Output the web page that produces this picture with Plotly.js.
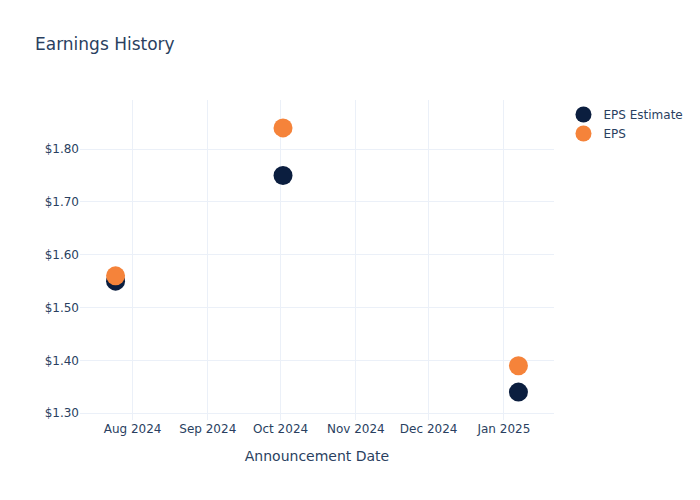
<!DOCTYPE html>
<html><head><meta charset="utf-8">
<script src="https://cdn.plot.ly/plotly-3.0.1.min.js"></script>
<style>body{margin:0}</style></head>
<body><div id="chart" style="width:700px;height:500px"></div>
<script>
const dates = ["2024-07-25", "2024-10-02", "2025-01-07"];
const epsEstimate = [1.55, 1.75, 1.34];
const epsActual = [1.56, 1.84, 1.39];

const traces = [
  {x: dates, y: epsEstimate, name: "EPS Estimate", type: "scatter", mode: "markers",
   marker: {color: "#0b1e3f", size: 19}},
  {x: dates, y: epsActual, name: "EPS", type: "scatter", mode: "markers",
   marker: {color: "#f5833a", size: 19}}
];
const layout = {
  width: 700, height: 500,
  title: {text: "Earnings History", x: 0.05, font: {size: 17, color: "#2a3f5f"}},
  paper_bgcolor: "#fff", plot_bgcolor: "#fff",
  font: {family: "'DejaVu Sans', verdana, arial, sans-serif", color: "#2a3f5f", size: 12},
  xaxis: {title: {text: "Announcement Date", font: {size: 14}, standoff: 16}, gridcolor: "#ebf0f8", zeroline: false, tickformat: "%b %Y", dtick: "M1"},
  yaxis: {tickprefix: "$", tickformat: ".2f", gridcolor: "#ebf0f8", zeroline: false},
  legend: {font: {size: 12}},
  margin: {t: 100, b: 80, l: 80, r: 80}
};
Plotly.newPlot("chart", traces, layout, {displayModeBar: false});
</script></body></html>
